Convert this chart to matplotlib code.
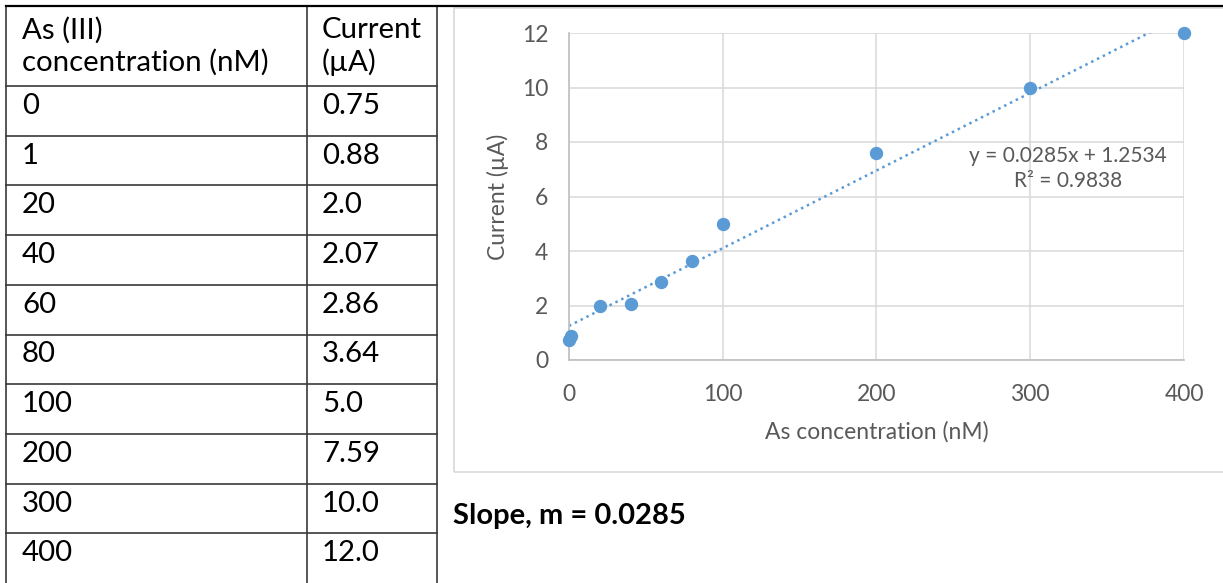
import matplotlib.pyplot as plt
import matplotlib as mpl
import numpy as np
from matplotlib.lines import Line2D
from matplotlib.patches import Rectangle

# ---- data ----
conc_labels = ["0", "1", "20", "40", "60", "80", "100", "200", "300", "400"]
current_labels = ["0.75", "0.88", "2.0", "2.07", "2.86", "3.64", "5.0", "7.59", "10.0", "12.0"]
conc = [0, 1, 20, 40, 60, 80, 100, 200, 300, 400]
current = [0.75, 0.88, 2.0, 2.07, 2.86, 3.64, 5.0, 7.59, 10.0, 12.0]
slope, intercept, r2 = 0.0285, 1.2534, 0.9838

mpl.rcParams['font.family'] = ['Lato', 'DejaVu Sans']

W, H = 1223, 583
fig = plt.figure(figsize=(W / 100, H / 100), dpi=100)

def fx(px):
    return px / W

def fy(py):
    return 1 - py / H

# ---- table on the left ----
line_col = "#3a3a3a"
col_x = [6, 307, 437]
header_bottom = 86
row_h = 49.7
for x in col_x:
    fig.add_artist(Line2D([fx(x), fx(x)], [fy(6), fy(H + 5)], color=line_col, lw=1.2))
for i in range(len(conc_labels)):
    y = header_bottom + i * row_h
    fig.add_artist(Line2D([fx(6), fx(437)], [fy(y), fy(y)], color=line_col, lw=1.2))
# top border across the whole width
fig.add_artist(Line2D([fx(6), fx(W)], [fy(6), fy(6)], color="black", lw=1.6))

tsize = 21.2
fig.text(fx(22), fy(30), "As (III)", fontsize=tsize, va="center", ha="left")
fig.text(fx(22), fy(62), "concentration (nM)", fontsize=tsize, va="center", ha="left")
fig.text(fx(322), fy(30), "Current", fontsize=tsize, va="center", ha="left")
fig.text(fx(322), fy(62), "(µA)", fontsize=tsize, va="center", ha="left")
for i, (c, v) in enumerate(zip(conc_labels, current_labels)):
    yc = header_bottom + i * row_h + 20
    fig.text(fx(22), fy(yc), c, fontsize=tsize, va="center", ha="left")
    fig.text(fx(322), fy(yc), v, fontsize=tsize, va="center", ha="left")

# ---- chart frame ----
fig.add_artist(Rectangle((fx(454), fy(472)), fx(W + 10) - fx(454), fy(8) - fy(472),
                         fill=False, edgecolor="#d9d9d9", lw=1.2))

# ---- scatter chart ----
x0, x1, y0, y1 = 569, 1184, 360, 33
ax = fig.add_axes([fx(x0), fy(y0), fx(x1) - fx(x0), fy(y1) - fy(y0)])
ax.set_xlim(0, 400)
ax.set_ylim(0, 12)
ax.set_xticks([0, 100, 200, 300, 400])
ax.set_yticks([0, 2, 4, 6, 8, 10, 12])
ax.grid(True, color="#d9d9d9", lw=1.1)
ax.set_axisbelow(True)
for s in ["top", "right"]:
    ax.spines[s].set_visible(False)
for s in ["left", "bottom"]:
    ax.spines[s].set_color("#bfbfbf")
    ax.spines[s].set_linewidth(1.2)
ax.tick_params(length=0, labelsize=16.5, labelcolor="#595959")
ax.tick_params(axis="y", pad=15)
ax.tick_params(axis="x", pad=17)

xs = np.array([0, 400])
ax.plot(xs, slope * xs + intercept, linestyle=(0, (1, 1.6)), color="#5b9bd5", lw=1.8, zorder=2)
ax.plot(conc, current, "o", color="#5b9bd5", markersize=8.6, zorder=3, clip_on=False)

ax.text(324.5, 7.03, f"y = {slope}x + {intercept}\nR² = {r2}", ha="center", va="center",
        multialignment="center", fontsize=15, color="#595959", linespacing=1.3)

ax.set_xlabel("As concentration (nM)", fontsize=16.5, color="#595959")
ax.xaxis.label.set_va("center")
ax.xaxis.set_label_coords(0.5, -(432 - 360) / (y0 - y1))
ax.set_ylabel("Current (µA)", fontsize=16.5, color="#595959")
ax.yaxis.label.set_va("center")
ax.yaxis.set_label_coords((498 - x0) / (x1 - x0), 0.5)

fig.text(fx(453), fy(516), "Slope, m = 0.0285", fontsize=21, fontweight="bold",
         va="center", ha="left")

fig.savefig("out.png", dpi=100)
